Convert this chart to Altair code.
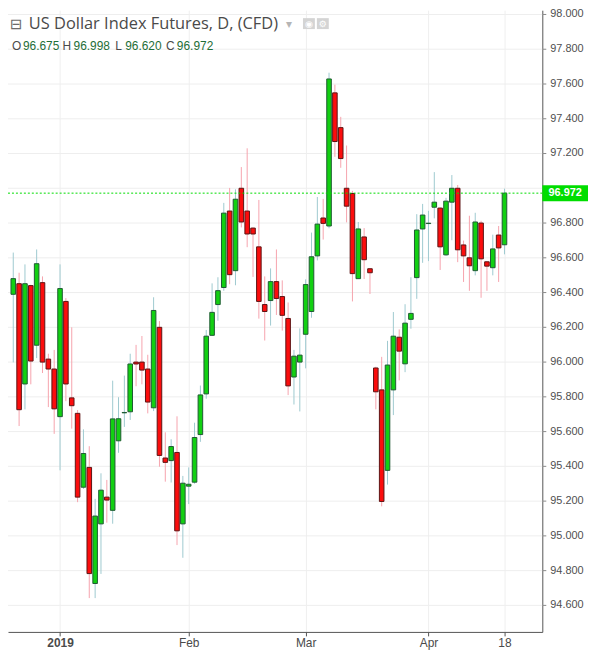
import altair as alt
import pandas as pd

# Daily OHLC bars (trading-day index 0..84, Jan 2 = 8, Feb 1 = 30, Mar 1 = 50, Apr 1 = 71, Apr 18 = 84)
opens = [96.390, 96.451, 95.874, 96.440, 96.097, 96.457, 96.017, 95.960, 95.686, 96.349,
         95.794, 95.705, 95.280, 95.394, 94.726, 95.069, 95.223, 95.147, 95.547, 95.708,
         95.714, 96.000, 96.000, 95.960, 95.737, 96.200, 95.448, 95.433, 95.480, 95.069,
         95.286, 95.309, 95.583, 95.817, 96.154, 96.331, 96.429, 96.869, 96.526, 97.000,
         96.869, 96.771, 96.663, 96.331, 96.354, 96.463, 96.377, 96.251, 95.914, 96.000,
         96.160, 96.291, 96.611, 96.829, 96.783, 97.549, 97.349, 97.000, 96.970, 96.480,
         96.720, 96.537, 95.966, 95.840, 95.377, 95.840, 96.143, 95.990, 96.246, 96.486,
         96.766, 96.797, 96.891, 96.886, 96.617, 96.920, 97.000, 96.674, 96.600, 96.526,
         96.800, 96.577, 96.543, 96.731, 96.675]
highs = [96.630, 96.514, 96.562, 96.445, 96.648, 96.493, 96.048, 96.070, 96.562, 96.368,
         96.200, 95.724, 95.613, 95.516, 95.213, 95.360, 95.322, 95.893, 95.798, 95.922,
         96.048, 96.099, 96.150, 96.042, 96.373, 96.236, 95.596, 95.556, 95.688, 95.345,
         95.394, 95.651, 95.865, 96.185, 96.453, 96.488, 96.916, 97.002, 96.994, 97.122,
         97.230, 96.775, 96.933, 96.493, 96.539, 96.648, 96.470, 96.343, 96.070, 96.194,
         96.476, 96.745, 96.950, 96.939, 97.665, 97.596, 97.411, 97.246, 96.985, 96.806,
         96.771, 96.540, 95.973, 96.030, 96.122, 96.288, 96.188, 96.333, 96.488, 96.851,
         96.910, 96.870, 97.093, 96.890, 96.945, 97.076, 97.019, 96.699, 96.842, 96.859,
         96.813, 96.580, 96.733, 96.783, 96.998]
lows = [95.998, 95.632, 95.728, 95.872, 96.023, 95.937, 95.741, 95.587, 95.377, 95.775,
        95.617, 95.194, 95.270, 94.642, 94.642, 94.781, 95.076, 95.070, 95.478, 95.627,
        95.667, 95.861, 95.872, 95.705, 95.718, 95.398, 95.312, 95.307, 94.947, 94.874,
        95.183, 95.300, 95.541, 95.789, 96.150, 96.238, 96.410, 96.448, 96.442, 96.775,
        96.661, 96.490, 96.250, 96.124, 96.210, 96.271, 96.181, 95.810, 95.756, 95.716,
        95.964, 96.255, 96.585, 96.705, 96.770, 97.181, 97.118, 96.804, 96.349, 96.480,
        96.478, 96.392, 95.728, 95.170, 95.295, 95.695, 95.895, 95.942, 96.192, 96.364,
        96.571, 96.581, 96.827, 96.530, 96.610, 96.701, 96.575, 96.461, 96.410, 96.499,
        96.370, 96.410, 96.499, 96.461, 96.620]
closes = [96.480, 95.726, 96.451, 96.006, 96.566, 96.000, 95.960, 95.731, 96.423, 95.874,
          95.749, 95.223, 95.474, 94.783, 95.114, 95.263, 95.206, 95.673, 95.674, 95.710,
          95.989, 95.989, 95.954, 95.770, 96.297, 95.463, 95.423, 95.514, 95.029, 95.303,
          95.297, 95.566, 95.811, 96.149, 96.286, 96.411, 96.857, 96.503, 96.937, 96.806,
          96.737, 96.737, 96.349, 96.291, 96.463, 96.366, 96.269, 95.863, 96.034, 96.040,
          96.446, 96.606, 96.794, 96.798, 97.629, 97.269, 97.171, 96.897, 96.509, 96.766,
          96.589, 96.514, 95.829, 95.198, 95.983, 96.149, 96.063, 96.224, 96.280, 96.760,
          96.846, 96.799, 96.920, 96.663, 96.926, 97.000, 96.646, 96.611, 96.554, 96.806,
          96.594, 96.552, 96.651, 96.657, 96.972]

x_tick_pos = [8, 30, 50, 71, 84]
x_tick_labels = ["2019", "Feb", "Mar", "Apr", "18"]
y_ticks = [94.6, 94.8, 95.0, 95.2, 95.4, 95.6, 95.8, 96.0, 96.2, 96.4, 96.6,
           96.8, 97.0, 97.2, 97.4, 97.6, 97.8, 98.0]
last_price = 96.972
title_text = "US Dollar Index Futures, D, (CFD)"
ohlc_letters = ["O", "H", "L", "C"]
ohlc_values = ["96.675", "96.998", "96.620", "96.972"]

df = pd.DataFrame({"i": list(range(len(opens))), "open": opens, "high": highs,
                   "low": lows, "close": closes})

UP_FILL, DOWN_FILL = "#12d012", "#fb0d0d"
UP_STROKE, DOWN_STROKE = "#1f5a33", "#5c1414"
UP_WICK, DOWN_WICK = "#9ecad0", "#f6a3ad"
GRID = "#eeeeee"
AXIS_FONT = "Liberation Sans"
is_up = "datum.close >= datum.open"

label_expr = "[" + ",".join("'%s'" % t for t in x_tick_labels) + "][indexof([" + \
    ",".join(str(p) for p in x_tick_pos) + "], datum.value)]"

x_enc = alt.X("i:Q", title=None,
              scale=alt.Scale(domain=[-0.05, 89.62], nice=False, zero=False),
              axis=alt.Axis(orient="bottom", values=x_tick_pos, labelExpr=label_expr,
                            grid=True, gridColor="#efefef", domainColor="#555555",
                            tickColor="#555555", tickSize=4, labelPadding=2,
                            labelFont=AXIS_FONT, labelFontSize=12, labelColor="#4a4a4a",
                            labelFontWeight={"condition": {"test": "datum.value == 8", "value": "bold"},
                                             "value": "normal"}))
y_scale = alt.Scale(domain=[94.4474, 98.0246], nice=False, zero=False)

# price scale: grid lines, tick marks and labels drawn from the tick list
yt = pd.DataFrame({"v": y_ticks, "t": ["%.3f" % v for v in y_ticks]})
y_grid = alt.Chart(yt).mark_rule(color=GRID, strokeWidth=1).encode(
    y=alt.Y("v:Q", scale=y_scale, title=None,
            axis=alt.Axis(orient="right", labels=False, ticks=False, grid=False,
                          domainColor="#555555")))
y_tickmarks = alt.Chart(yt).mark_rule(color="#8a8a8a", strokeWidth=1).encode(
    y="v:Q", x=alt.value(538), x2=alt.value(542))
yt_lab = yt[(yt["v"] - last_price).abs() > 0.05]
y_labels = alt.Chart(yt_lab).mark_text(
    font=AXIS_FONT, fontSize=11, color="#4f4f4f", align="left", baseline="middle").encode(
    y="v:Q", x=alt.value(546), text="t:N")

base = alt.Chart(df)
wicks = base.mark_rule(strokeWidth=1).encode(
    x=x_enc, y="low:Q", y2="high:Q",
    color=alt.condition(is_up, alt.value(UP_WICK), alt.value(DOWN_WICK)))
bodies = base.mark_bar(size=4.6, strokeWidth=1).encode(
    x="i:Q", y="open:Q", y2="close:Q",
    fill=alt.condition(is_up, alt.value(UP_FILL), alt.value(DOWN_FILL)),
    stroke=alt.condition(is_up, alt.value(UP_STROKE), alt.value(DOWN_STROKE)))

lp = pd.DataFrame({"p": [last_price], "lo": [last_price - 0.046], "hi": [last_price + 0.046],
                   "t": ["%.3f" % last_price]})
price_line = alt.Chart(lp).mark_rule(color="#00dd00", strokeWidth=1, strokeDash=[2, 2]).encode(
    y="p:Q")
price_box = alt.Chart(lp).mark_rect(color="#00dd00").encode(
    x=alt.value(538), x2=alt.value(584), y="hi:Q", y2="lo:Q")
price_text = alt.Chart(lp).mark_text(color="white", font=AXIS_FONT, fontSize=11,
                                     fontWeight="bold", align="center", baseline="middle").encode(
    x=alt.value(561), y="p:Q", text="t:N")

icon = alt.Chart(pd.DataFrame({"t": ["\u229f"]})).mark_text(
    font="DejaVu Sans", fontSize=15, color="#6b6b6b", align="left", baseline="middle").encode(
    x=alt.value(2), y=alt.value(14), text="t:N")
title = alt.Chart(pd.DataFrame({"t": [title_text]})).mark_text(
    font="Open Sans", fontSize=16.5, color="#4a4a4a", align="left", baseline="middle").encode(
    x=alt.value(21), y=alt.value(14), text="t:N")
caret = alt.Chart(pd.DataFrame({"t": ["\u25be"]})).mark_text(
    font="DejaVu Sans", fontSize=12, color="#b5b5b5", align="left", baseline="middle").encode(
    x=alt.value(280), y=alt.value(14), text="t:N")
btns = alt.Chart(pd.DataFrame({"a": [297, 311], "b": [309, 323]})).mark_rect(
    color="#d4d4d4").encode(x=alt.X("a:Q", scale=None), x2="b:Q", y=alt.value(8), y2=alt.value(19))
btn_glyphs = alt.Chart(pd.DataFrame({"t": ["\u25c9", "\u2699"], "a": [303, 317]})).mark_text(
    font="DejaVu Sans", fontSize=9, color="white", align="center", baseline="middle").encode(
    x=alt.X("a:Q", scale=None), y=alt.value(13.5), text="t:N")

ohlc_x_letters = [4, 55, 108, 159]
ohlc_x_values = [15, 66, 118, 170]
letters = alt.Chart(pd.DataFrame({"t": ohlc_letters, "a": ohlc_x_letters})).mark_text(
    font=AXIS_FONT, fontSize=12, color="#4a4a4a", align="left", baseline="middle").encode(
    x=alt.X("a:Q", scale=None), y=alt.value(36), text="t:N")
values = alt.Chart(pd.DataFrame({"t": ohlc_values, "a": ohlc_x_values})).mark_text(
    font=AXIS_FONT, fontSize=12, color="#1e6e37", align="left", baseline="middle").encode(
    x=alt.X("a:Q", scale=None), y=alt.value(36), text="t:N")

chart = alt.layer(
    y_grid, wicks, bodies, y_tickmarks, y_labels, price_line, price_box, price_text,
    icon, title, caret, btns, btn_glyphs, letters, values
).properties(
    width=538, height=626,
    autosize=alt.AutoSizeParams(type="none"),
    padding={"left": 0, "top": 0, "right": 46, "bottom": 18},
    background="white",
).configure_view(stroke=None)

chart.save("out.html", embed_options={"renderer": "svg", "actions": False})
